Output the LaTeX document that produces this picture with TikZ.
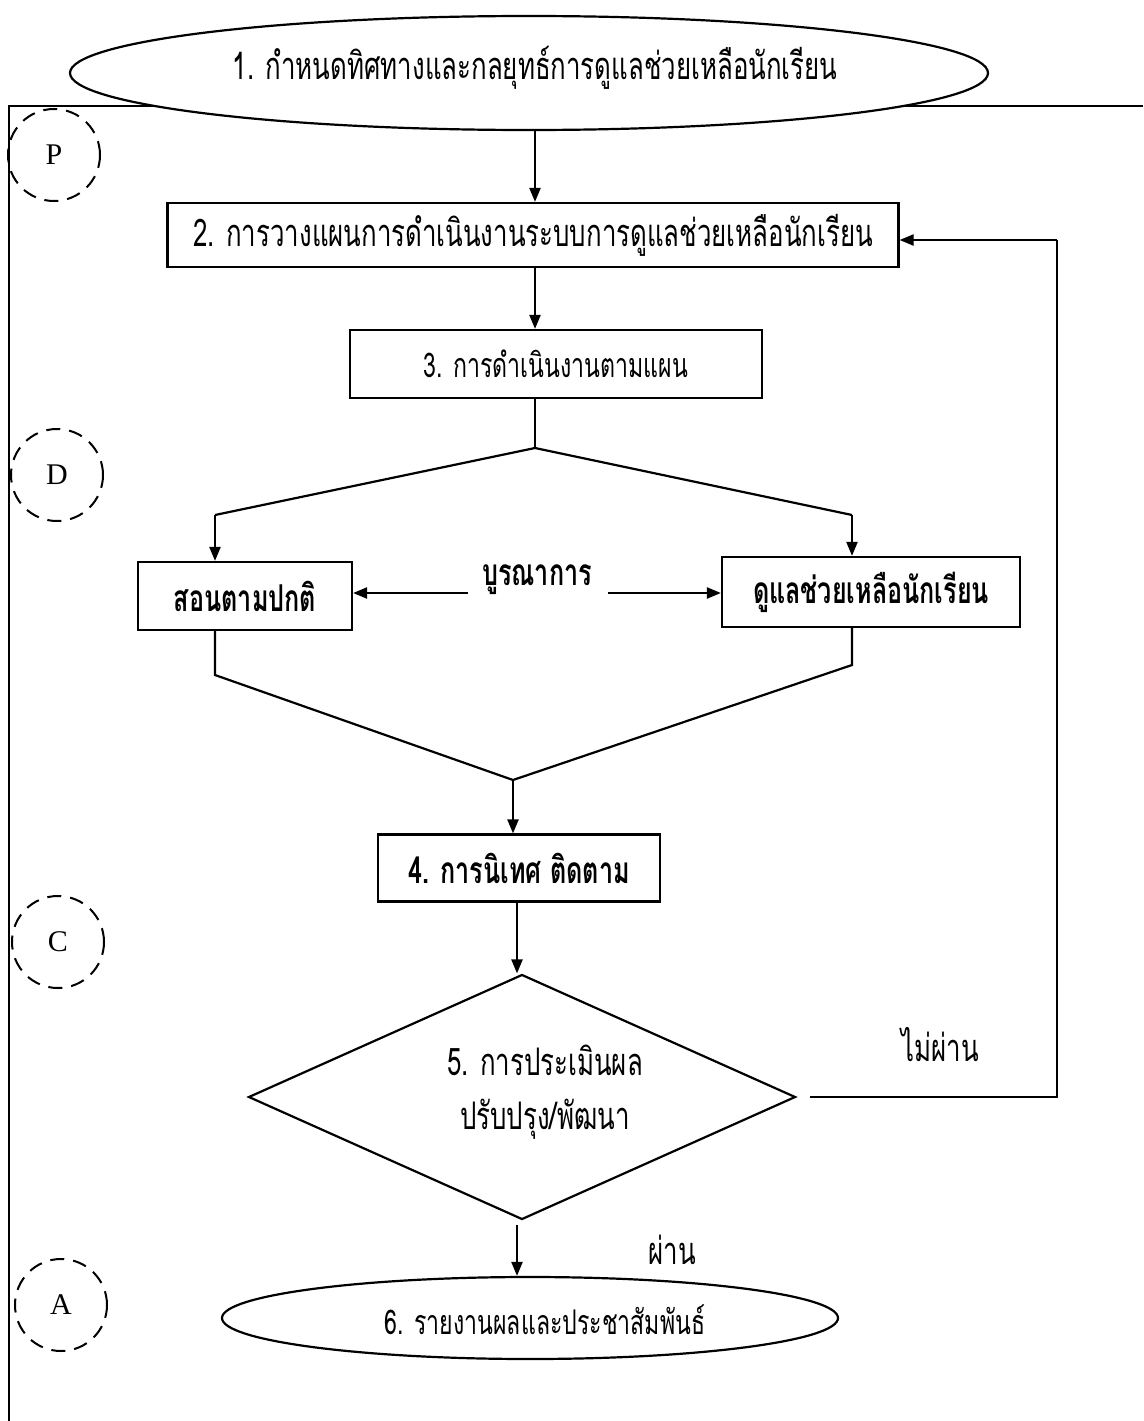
\documentclass[tikz,border=0pt]{standalone}
\usepackage{fontspec}
\setmainfont{Liberation Serif}
\newfontfamily\thai[Script=Thai,FakeStretch=0.68]{Loma}
\usetikzlibrary{arrows.meta,shapes.geometric}
\begin{document}
\begin{tikzpicture}[x=1pt,y=-1pt,
  ln/.style={line width=2.2pt},
  arr/.style={ln,-{Triangle[length=14pt,width=11pt]}},
  thaitext/.style={font=\thai\fontsize{38}{44}\selectfont},
  thaismall/.style={font=\thai\fontsize{34}{40}\selectfont},
  thaibold/.style={font=\thai\bfseries\fontsize{37}{44}\selectfont},
  box/.style={ln,draw,rectangle,inner sep=0pt,fill=white},
  oval/.style={ln,draw,ellipse,inner sep=0pt,fill=white},
  phase/.style={circle,draw,line width=2pt,dash pattern=on 14pt off 9pt,minimum size=92pt,inner sep=0pt,font=\fontsize{30}{32}\selectfont},
  lbl/.style={inner sep=0pt}]
\useasboundingbox (0,0) rectangle (1143,1421);
% frame
\coordinate (fr1) at (1143,106);
\coordinate (fr0) at (9,106);
\coordinate (fr2) at (9,1421);
\draw[ln] (fr1) -- (fr0) -- (fr2);
% phase circles
\node[phase] (P) at (54,155) {P};
\node[phase] (D) at (57,475) {D};
\node[phase] (C) at (58,942) {C};
\node[phase] (A) at (61,1305) {A};
% main nodes
\node[oval,minimum width=918pt,minimum height=114pt] (e1) at (529,73) {};
\node[lbl,thaitext] (t1) at (535,68) {1. กำหนดทิศทางและกลยุทธ์การดูแลช่วยเหลือนักเรียน};
\node[box,thaitext,minimum width=731pt,minimum height=64pt] (b2) at (533,235) {2. การวางแผนการดำเนินงานระบบการดูแลช่วยเหลือนักเรียน};
\node[box,thaismall,minimum width=412pt,minimum height=68pt] (b3) at (556,364) {3. การดำเนินงานตามแผน};
\node[box,thaibold,minimum width=214pt,minimum height=68pt] (bl) at (245,596) {สอนตามปกติ};
\node[box,thaibold,minimum width=298pt,minimum height=70pt] (br) at (871,592) {ดูแลช่วยเหลือนักเรียน};
\node[lbl,thaibold] (integ) at (537,580) {บูรณาการ};
\node[box,thaibold,minimum width=282pt,minimum height=67pt] (b4) at (519,868) {4. การนิเทศ ติดตาม};
\node[ln,draw,diamond,inner sep=0pt,minimum width=547pt,minimum height=245pt] (d5) at (522,1097) {};
\node[lbl,thaitext,align=center] (t5) at (545,1092) {5. การประเมินผล\\[10pt]ปรับปรุง/พัฒนา};
\node[oval,minimum width=616pt,minimum height=82pt] (e6) at (530,1318) {};
\node[lbl,thaismall] (t6) at (545,1320) {6. รายงานผลและประชาสัมพันธ์};
\node[lbl,thaitext] (no) at (940,1045) {ไม่ผ่าน};
\node[lbl,thaitext] (yes) at (672,1250) {ผ่าน};
% connectors
\coordinate (top) at (535,0);
\draw[arr] (e1.south -| top) -- (b2.north -| top);
\draw[arr] (b2.south -| top) -- (b3.north -| top);
\coordinate (split) at (535,448);
\coordinate (sl) at (215,515);
\coordinate (sr) at (852,515);
\draw[ln] (b3.south -| split) -- (split);
\draw[ln] (sl) -- (split) -- (sr);
\draw[arr] (sl) -- (sl |- bl.north);
\draw[arr] (sr) -- (sr |- br.north);
\coordinate (ia) at (468,593);
\coordinate (ib) at (608,593);
\draw[arr] (ia) -- (ia -| bl.east);
\draw[arr] (ib) -- (ib -| br.west);
\coordinate (ml) at (215,675);
\coordinate (mr) at (852,665);
\coordinate (merge) at (513,780);
\draw[ln] (bl.south -| ml) -- (ml) -- (merge) -- (mr) -- (br.south -| mr);
\draw[arr] (merge) -- (merge |- b4.north);
\coordinate (c4) at (517,0);
\draw[arr] (b4.south -| c4) -- (d5.north -| c4);
\coordinate (fb0) at (810,1097);
\coordinate (fb1) at (1057,1097);
\coordinate (fb2) at (1057,240);
\draw[ln] (fb0) -- (fb1) -- (fb2);
\draw[arr] (fb2) -- (fb2 -| b2.east);
\coordinate (p0) at (517,1225);
\draw[arr] (p0) -- (p0 |- e6.north);
\end{tikzpicture}
\end{document}
